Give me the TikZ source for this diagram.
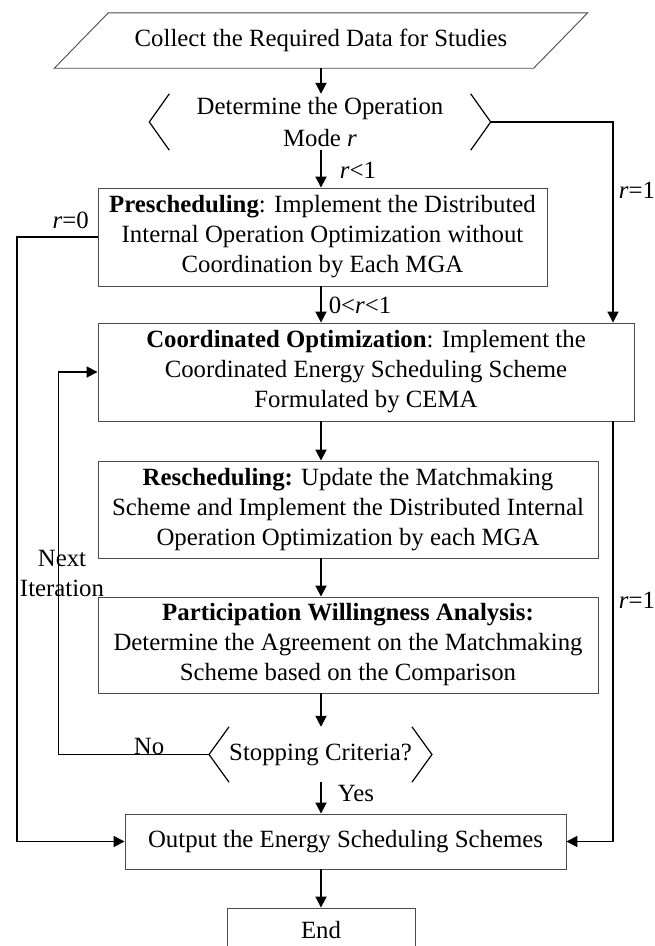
\documentclass[tikz,border=0pt]{standalone}
\usepackage{fontspec}
\setmainfont{Liberation Serif}
\usetikzlibrary{arrows.meta,calc}
\definecolor{box-gray}{gray}{0.3}
\tikzstyle{flowtext}=[font=\fontsize{24.8}{30}\selectfont]
\tikzstyle{block}=[draw=box-gray,line width=0.9pt,flowtext,align=center,inner sep=0pt]
\tikzstyle{decisiontext}=[flowtext,align=center,inner sep=0pt]
\tikzstyle{connector}=[line width=1.8pt,-{Triangle[length=11pt,width=11pt]}]
\tikzstyle{branchlabel}=[flowtext,inner sep=0pt]
\newcommand{\drawbrackets}[2]{% Syntax: {node name}{tip offset}
  \coordinate (#1-l) at ($(#1.west)+(-#2,0)$);
  \coordinate (#1-r) at ($(#1.east)+(#2,0)$);
  \draw[line width=1.2pt] (#1.north west) -- (#1-l) -- (#1.south west);
  \draw[line width=1.2pt] (#1.north east) -- (#1-r) -- (#1.south east);
}
\newcommand{\drawslant}[2]{% Syntax: {node name}{half slant}
  \draw[box-gray,line width=0.9pt] ($(#1.south west)+(-#2,0)$) -- ($(#1.north west)+(#2,0)$)
    -- ($(#1.north east)+(#2,0)$) -- ($(#1.south east)+(-#2,0)$) -- cycle;
}
\begin{document}
\begin{tikzpicture}[x=1pt,y=-1pt]
	\useasboundingbox (0,0) rectangle (654,946);
	\clip (0,0) rectangle (654,946);
	% rails for the connectors
	\coordinate (mid) at (321,0);
	\coordinate (leftrail) at (16.7,0);
	\coordinate (looprail) at (58.5,0);
	\coordinate (rightrail) at (613,0);
	\node[decisiontext,minimum width=479pt,minimum height=55pt] (collect) at (321,40.5) {Collect the Required Data for Studies};
	\drawslant{collect}{27}
	\node[decisiontext,minimum width=301pt,minimum height=56pt] (mode) at (320,122) {Determine the Operation\\[2pt]Mode \textit{r}};
	\drawbrackets{mode}{20}
	\node[block,minimum width=449pt,minimum height=98pt] (presch) at (322.5,237)
	  {\textbf{Prescheduling}: Implement the Distributed\\Internal Operation Optimization without\\Coordination by Each MGA};
	\node[block,minimum width=536pt,minimum height=98pt] (coord) at (366,372)
	  {\textbf{Coordinated Optimization}: Implement the\\Coordinated Energy Scheduling Scheme\\Formulated by CEMA};
	\node[block,minimum width=500pt,minimum height=97pt] (resch) at (348,509.5)
	  {\textbf{Rescheduling:} Update the Matchmaking\\Scheme and Implement the Distributed Internal\\Operation Optimization by each MGA};
	\node[block,minimum width=500pt,minimum height=96pt] (partic) at (348,645)
	  {\textbf{Participation Willingness Analysis:}\\Determine the Agreement on the Matchmaking\\Scheme based on the Comparison};
	\node[decisiontext,minimum width=176pt,minimum height=55pt] (stop) at (320.5,754.5) {Stopping Criteria?};
	\drawbrackets{stop}{20}
	\node[block,minimum width=441pt,minimum height=55pt] (output) at (345.5,841.5) {Output the Energy Scheduling Schemes};
	\node[block,minimum width=188pt,minimum height=44pt] (end) at (321,930) {End};
	% main flow
	\draw[connector] (mid |- collect.south) -- (mid |- mode.north);
	\draw[connector] (mid |- mode.south) -- (mid |- presch.north);
	\draw[connector] (mid |- presch.south) -- (mid |- coord.north);
	\draw[connector] (mid |- coord.south) -- (mid |- resch.north);
	\draw[connector] (mid |- resch.south) -- (mid |- partic.north);
	\draw[connector] (mid |- partic.south) -- (mid |- stop.north);
	\draw[connector] (mid |- stop.south) -- (mid |- output.north);
	\draw[connector] (mid |- output.south) -- (mid |- end.north);
	% side branches
	\draw[connector] (mode-r) -| (rightrail |- coord.north);
	\draw[connector] (rightrail |- coord.south) |- (output.east);
	\draw[connector] (presch.west) -| (leftrail |- output.west) -- (output.west);
	\draw[connector] (stop-l) -| (looprail |- coord.west) -- (coord.west);
	% labels
	\node[branchlabel] (rless) at (358,170) {\textit{r}<1};
	\node[branchlabel] (rmid) at (360,305) {0<\textit{r}<1};
	\node[branchlabel] (rzero) at (70.6,220) {\textit{r}=0};
	\node[branchlabel] (roneup) at (637,190) {\textit{r}=1};
	\node[branchlabel] (ronedown) at (637,600) {\textit{r}=1};
	\node[branchlabel,align=center] (nextit) at (62,573) {Next\\Iteration};
	\node[branchlabel] (no) at (149,746) {No};
	\node[branchlabel] (yes) at (356,793) {Yes};
\end{tikzpicture}
\end{document}
